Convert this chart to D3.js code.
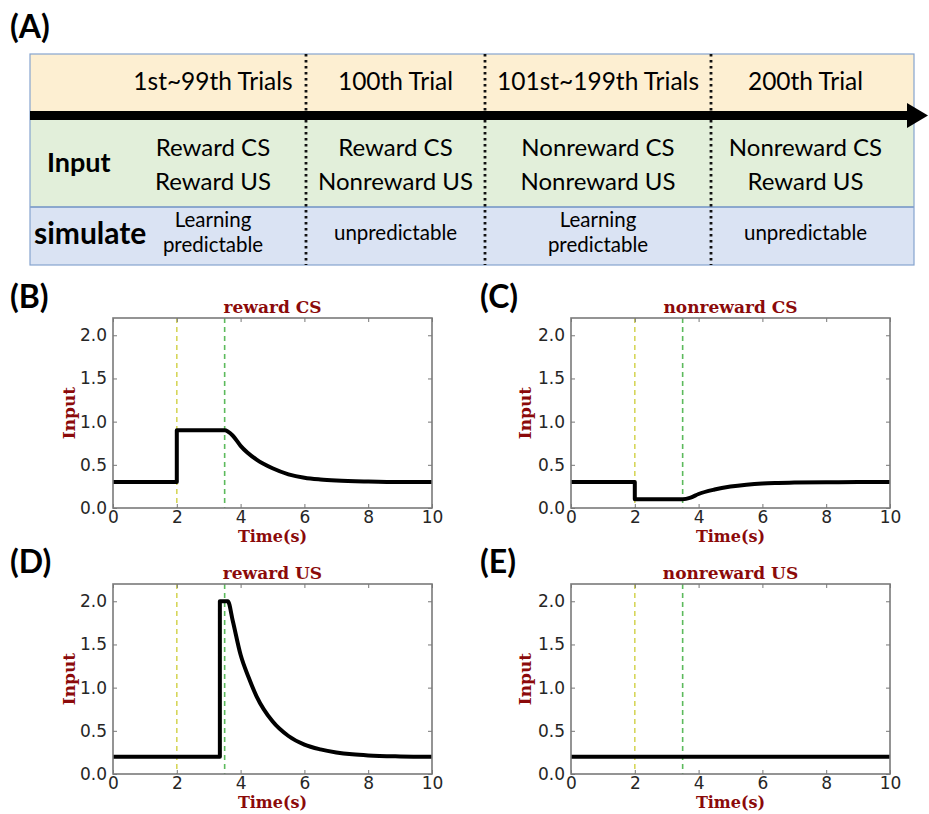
<!DOCTYPE html>
<html>
<head>
<meta charset="utf-8">
<script src="https://cdnjs.cloudflare.com/ajax/libs/d3/7.8.5/d3.min.js"></script>
<style>
  body { margin: 0; background: #fff; }
  svg { display: block; }
</style>
</head>
<body>
<svg id="fig" width="929" height="814"></svg>
<script>
// ---- panel A: the protocol table ----
const trialLabels = ["1st~99th Trials", "100th Trial", "101st~199th Trials", "200th Trial"];
const csInputs = ["Reward CS", "Reward CS", "Nonreward CS", "Nonreward CS"];
const usInputs = ["Reward US", "Nonreward US", "Nonreward US", "Reward US"];
const simulateLabels = [["Learning", "predictable"], ["unpredictable"], ["Learning", "predictable"], ["unpredictable"]];

// ---- panels B-E: input time courses ----
const csRewardT = [0, 2, 2, 3.5, 3.75, 4, 4.5, 5, 5.5, 6, 6.5, 7, 8, 9, 10];
const csRewardV = [0.3, 0.3, 0.9, 0.9, 0.84, 0.72, 0.56, 0.46, 0.39, 0.35, 0.33, 0.318, 0.306, 0.30, 0.30];
const csNonrewardT = [0, 2, 2, 3.5, 3.75, 4, 4.5, 5, 5.5, 6, 6.5, 7, 8, 9, 10];
const csNonrewardV = [0.3, 0.3, 0.1, 0.1, 0.12, 0.162, 0.214, 0.248, 0.27, 0.284, 0.29, 0.294, 0.298, 0.30, 0.30];
const usRewardT = [0, 3.35, 3.35, 3.6, 3.75, 4, 4.25, 4.5, 5, 5.5, 6, 6.5, 7, 7.5, 8, 9, 10];
const usRewardV = [0.2, 0.2, 2.0, 2.0, 1.78, 1.38, 1.12, 0.9, 0.61, 0.44, 0.34, 0.285, 0.25, 0.228, 0.215, 0.204, 0.2];
const usNonrewardT = [0, 10];
const usNonrewardV = [0.2, 0.2];

const cueTimes = [2, 3.5];           // CS onset, US onset (dashed markers)
const cueColors = ["#d6d65a", "#5cba5c"];
const xTicks = [0, 2, 4, 6, 8, 10];
const yTicks = [0, 0.5, 1.0, 1.5, 2.0];

const svg = d3.select("#fig");
svg.append("rect").attr("width", 929).attr("height", 814).attr("fill", "#fff");

// ---------- panel A ----------
const boxL = 30, boxR = 914, boxT = 54, boxB = 265;
const arrowY = 115.5, blueT = 207;
const colEdges = [120, 306, 485, 711, 900];
const colMid = i => (colEdges[i] + colEdges[i + 1]) / 2;
const calib = "Lato, 'Open Sans', sans-serif";

const gA = svg.append("g");
gA.append("rect").attr("x", boxL).attr("y", boxT).attr("width", boxR - boxL).attr("height", arrowY - boxT)
  .attr("fill", "#fdefd2");
gA.append("rect").attr("x", boxL).attr("y", arrowY).attr("width", boxR - boxL).attr("height", blueT - arrowY)
  .attr("fill", "#e2efda");
gA.append("rect").attr("x", boxL).attr("y", blueT).attr("width", boxR - boxL).attr("height", boxB - blueT)
  .attr("fill", "#dae3f3");
gA.append("line").attr("x1", boxL).attr("x2", boxR).attr("y1", blueT).attr("y2", blueT)
  .attr("stroke", "#6f92c4").attr("stroke-width", 1.5);
gA.append("rect").attr("x", boxL).attr("y", boxT).attr("width", boxR - boxL).attr("height", boxB - boxT)
  .attr("fill", "none").attr("stroke", "#86a4cf").attr("stroke-width", 1.2);

// dotted phase dividers
gA.selectAll("line.div").data(colEdges.slice(1, 4)).enter().append("line")
  .attr("class", "div")
  .attr("x1", d => d).attr("x2", d => d)
  .attr("y1", boxT).attr("y2", boxB)
  .attr("stroke", "#111").attr("stroke-width", 2.8).attr("stroke-dasharray", "2.5,3.5");

// timeline arrow
gA.append("line").attr("x1", boxL).attr("x2", 910).attr("y1", arrowY).attr("y2", arrowY)
  .attr("stroke", "#000").attr("stroke-width", 9);
gA.append("path").attr("d", `M907,103 L928,${arrowY} L907,128 Z`).attr("fill", "#000");

gA.append("text").attr("x", 10).attr("y", 38).text("(A)")
  .attr("font-family", calib).attr("font-weight", "bold").attr("font-size", 32);

gA.selectAll("text.trial").data(trialLabels).enter().append("text")
  .attr("class", "trial")
  .attr("x", (d, i) => colMid(i)).attr("y", 90)
  .attr("text-anchor", "middle").attr("font-family", calib).attr("font-size", 24.5)
  .text(d => d);

gA.selectAll("text.cs").data(csInputs).enter().append("text")
  .attr("class", "cs")
  .attr("x", (d, i) => colMid(i)).attr("y", 156)
  .attr("text-anchor", "middle").attr("font-family", calib).attr("font-size", 24)
  .text(d => d);
gA.selectAll("text.us").data(usInputs).enter().append("text")
  .attr("class", "us")
  .attr("x", (d, i) => colMid(i)).attr("y", 190)
  .attr("text-anchor", "middle").attr("font-family", calib).attr("font-size", 24)
  .text(d => d);

gA.append("text").attr("x", 47).attr("y", 172).text("Input")
  .attr("font-family", calib).attr("font-weight", "bold").attr("font-size", 27);
gA.append("text").attr("x", 34).attr("y", 244).text("simulate")
  .attr("font-family", calib).attr("font-weight", "bold").attr("font-size", 30);

simulateLabels.forEach((lines, i) => {
  const y0 = lines.length === 1 ? 240 : 227;
  lines.forEach((s, j) => {
    gA.append("text")
      .attr("x", colMid(i)).attr("y", y0 + j * 25)
      .attr("text-anchor", "middle").attr("font-family", calib).attr("font-size", 20.5)
      .text(s);
  });
});

// ---------- panels B-E ----------
const pw = 319, ph = 190;
const panels = [
  {label: "(B)", title: "reward CS", t: csRewardT, v: csRewardV, left: 113, top: 318, lx: 10, ly: 308},
  {label: "(C)", title: "nonreward CS", t: csNonrewardT, v: csNonrewardV, left: 571, top: 318, lx: 480, ly: 308},
  {label: "(D)", title: "reward US", t: usRewardT, v: usRewardV, left: 113, top: 584, lx: 10, ly: 573},
  {label: "(E)", title: "nonreward US", t: usNonrewardT, v: usNonrewardV, left: 571, top: 584, lx: 480, ly: 573}
];

const titleRed = "#8b0a0a";
const serif = "'DejaVu Serif', serif";

panels.forEach(p => {
  const x = d3.scaleLinear().domain([0, 10]).range([0, pw]);
  const y = d3.scaleLinear().domain([0, 2.2]).range([ph, 0]);

  svg.append("text").attr("x", p.lx).attr("y", p.ly).text(p.label)
    .attr("font-family", calib).attr("font-weight", "bold").attr("font-size", 32);

  const g = svg.append("g").attr("transform", `translate(${p.left},${p.top})`);

  // cue markers
  g.selectAll("line.cue").data(cueTimes).enter().append("line")
    .attr("class", "cue")
    .attr("x1", d => x(d)).attr("x2", d => x(d))
    .attr("y1", 0).attr("y2", ph)
    .attr("stroke", (d, i) => cueColors[i]).attr("stroke-width", 1.6)
    .attr("stroke-dasharray", "5,4");

  // input trace
  const pts = p.t.map((t, i) => [t, p.v[i]]);
  const line = d3.line().x(d => x(d[0])).y(d => y(d[1])).curve(d3.curveMonotoneX);
  g.append("path").datum(pts).attr("d", line)
    .attr("fill", "none").attr("stroke", "#000").attr("stroke-width", 4)
    .attr("stroke-linejoin", "round");

  // axes with inward ticks on all four sides
  const tickStyle = sel => {
    sel.select(".domain").remove();
    sel.selectAll(".tick line").attr("stroke", "#777").attr("stroke-width", 1);
    sel.selectAll(".tick text").attr("fill", "#262626")
      .attr("font-family", "'DejaVu Sans', sans-serif").attr("font-size", 17);
  };
  g.append("g").attr("transform", `translate(0,${ph})`)
    .call(d3.axisBottom(x).tickValues(xTicks).tickFormat(d3.format("d"))
      .tickSizeInner(-4).tickSizeOuter(0).tickPadding(2.5))
    .call(tickStyle);
  g.append("g")
    .call(d3.axisTop(x).tickValues(xTicks).tickFormat("").tickSizeInner(-4).tickSizeOuter(0))
    .call(tickStyle);
  g.append("g")
    .call(d3.axisLeft(y).tickValues(yTicks).tickFormat(d3.format(".1f"))
      .tickSizeInner(-4).tickSizeOuter(0).tickPadding(6))
    .call(tickStyle);
  g.append("g").attr("transform", `translate(${pw},0)`)
    .call(d3.axisRight(y).tickValues(yTicks).tickFormat("").tickSizeInner(-4).tickSizeOuter(0))
    .call(tickStyle);

  g.append("rect").attr("width", pw).attr("height", ph)
    .attr("fill", "none").attr("stroke", "#7a7a7a").attr("stroke-width", 1.6);

  g.append("text").attr("x", pw / 2).attr("y", -5).attr("text-anchor", "middle")
    .attr("font-family", serif).attr("font-weight", "bold").attr("font-size", 17)
    .attr("fill", titleRed).text(p.title);
  g.append("text").attr("x", pw / 2).attr("y", ph + 34).attr("text-anchor", "middle")
    .attr("font-family", serif).attr("font-weight", "bold").attr("font-size", 16)
    .attr("fill", titleRed).text("Time(s)");
  g.append("text")
    .attr("transform", `translate(${p.left === 113 ? -38 : -40},${ph / 2}) rotate(-90)`)
    .attr("text-anchor", "middle")
    .attr("font-family", serif).attr("font-weight", "bold").attr("font-size", 17)
    .attr("fill", titleRed).text("Input");
});
</script>
</body>
</html>
